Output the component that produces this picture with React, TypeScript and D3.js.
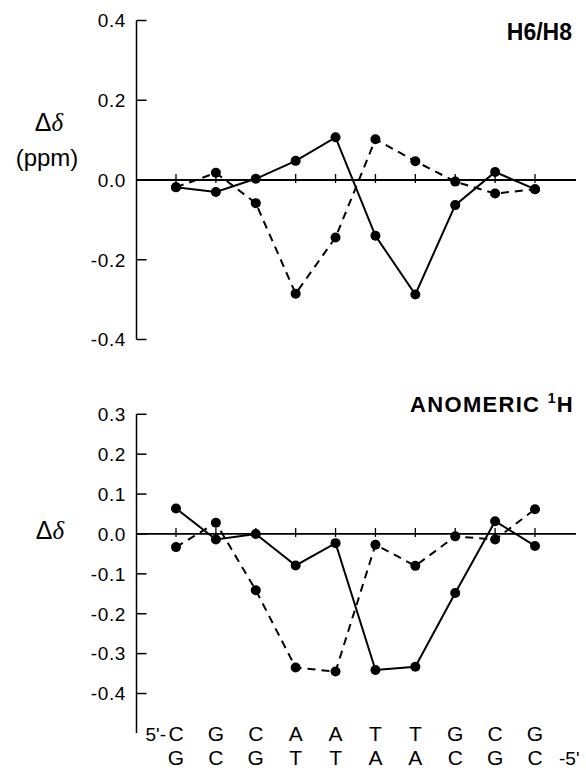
import React from 'react';
import * as d3 from 'd3';

// sequence (top strand 5'->3', bottom strand 3'->5')
const strandTop = ['C', 'G', 'C', 'A', 'A', 'T', 'T', 'G', 'C', 'G'];
const strandBottom = ['G', 'C', 'G', 'T', 'T', 'A', 'A', 'C', 'G', 'C'];

// H6/H8 shifts (ppm)
const h68Solid = [-0.018, -0.03, 0.003, 0.048, 0.107, -0.14, -0.287, -0.063, 0.02, -0.023];
const h68Dashed = [-0.018, 0.018, -0.058, -0.285, -0.144, 0.102, 0.047, -0.004, -0.034, -0.023];

// anomeric 1H shifts (ppm)
const anoSolid = [0.064, -0.014, 0.0, -0.079, -0.023, -0.341, -0.333, -0.148, 0.032, -0.03];
const anoDashed = [-0.033, 0.028, -0.141, -0.335, -0.345, -0.027, -0.08, -0.006, -0.014, 0.062];

const topTicks = [0.4, 0.2, 0.0, -0.2, -0.4];
const bottomTicks = [0.3, 0.2, 0.1, 0.0, -0.1, -0.2, -0.3, -0.4];

const font = '"Liberation Sans", Arial, sans-serif';
const axisX = 136.5;
const lineEnd = 576;

const x = d3
  .scalePoint<number>()
  .domain(d3.range(strandTop.length))
  .range([176, 535]);

const yTop = d3.scaleLinear().domain([-0.4, 0.4]).range([339.5, 20.5]);
const yBottom = d3.scaleLinear().domain([-0.4, 0.3]).range([693.5, 414.3]);

function Series({ values, y, dashed }: { values: number[]; y: d3.ScaleLinear<number, number>; dashed?: boolean }) {
  const line = d3
    .line<number>()
    .x((d, i) => x(i) as number)
    .y((d) => y(d));
  return (
    <g>
      <path
        d={line(values) || ''}
        fill="none"
        stroke="#000"
        strokeWidth={2}
        strokeDasharray={dashed ? '8,6' : undefined}
      />
      {values.map((v, i) => (
        <circle key={i} cx={x(i)} cy={y(v)} r={5} fill="#000" />
      ))}
    </g>
  );
}

function Panel({
  y,
  ticks,
  bottomExtent,
}: {
  y: d3.ScaleLinear<number, number>;
  ticks: number[];
  bottomExtent: number;
}) {
  const y0 = y(0);
  return (
    <g>
      <line x1={axisX} x2={axisX} y1={y(ticks[0])} y2={bottomExtent} stroke="#000" strokeWidth={1.5} />
      {ticks.map((t) => (
        <g key={t}>
          <line x1={axisX} x2={axisX + 10} y1={y(t)} y2={y(t)} stroke="#000" strokeWidth={1.5} />
          <text
            x={126}
            y={y(t)}
            dy="0.36em"
            textAnchor="end"
            fontFamily={font}
            fontSize={19}
            letterSpacing={0.6}
          >
            {t.toFixed(1)}
          </text>
        </g>
      ))}
      <line x1={axisX} x2={lineEnd} y1={y0} y2={y0} stroke="#000" strokeWidth={1.8} />
      {strandTop.map((s, i) => (
        <line key={i} x1={x(i)} x2={x(i)} y1={y0 - 6} y2={y0 + 3} stroke="#000" strokeWidth={1.3} />
      ))}
    </g>
  );
}

export default function App() {
  return (
    <svg
      width={586}
      height={770}
      style={{ position: 'absolute', left: 0, top: 0, background: '#fff' }}
    >
      <rect width={586} height={770} fill="#fff" />

      {/* top panel: H6/H8 */}
      <Panel y={yTop} ticks={topTicks} bottomExtent={yTop(-0.4)} />
      <Series values={h68Dashed} y={yTop} dashed />
      <Series values={h68Solid} y={yTop} />
      <text x={572} y={39.5} textAnchor="end" fontFamily={font} fontWeight="bold" fontSize={23}>
        H6/H8
      </text>
      <text x={49} y={131} textAnchor="middle" fontFamily={font} fontSize={25}>
        Δ<tspan fontFamily='"Liberation Serif", serif' fontStyle="italic">δ</tspan>
      </text>
      <text x={47} y={166} textAnchor="middle" fontFamily={font} fontSize={24}>
        (ppm)
      </text>

      {/* bottom panel: anomeric 1H */}
      <Panel y={yBottom} ticks={bottomTicks} bottomExtent={733} />
      <Series values={anoDashed} y={yBottom} dashed />
      <Series values={anoSolid} y={yBottom} />
      <text x={574} y={412} textAnchor="end" fontFamily={font} fontWeight="bold" fontSize={22} letterSpacing={1.3}>
        ANOMERIC{' '}
        <tspan fontSize={14} dy={-9}>
          1
        </tspan>
        <tspan dy={9}>H</tspan>
      </text>
      <text x={50} y={539} textAnchor="middle" fontFamily={font} fontSize={25}>
        Δ<tspan fontFamily='"Liberation Serif", serif' fontStyle="italic">δ</tspan>
      </text>

      {/* sequence labels */}
      <text x={166} y={741} textAnchor="end" fontFamily={font} fontSize={19}>
        5'-
      </text>
      {strandTop.map((s, i) => (
        <text key={'t' + i} x={x(i)} y={741} textAnchor="middle" fontFamily={font} fontSize={21}>
          {s}
        </text>
      ))}
      {strandBottom.map((s, i) => (
        <text key={'b' + i} x={x(i)} y={765} textAnchor="middle" fontFamily={font} fontSize={21}>
          {s}
        </text>
      ))}
      <text x={559} y={765} fontFamily={font} fontSize={19}>
        -5'
      </text>
    </svg>
  );
}
